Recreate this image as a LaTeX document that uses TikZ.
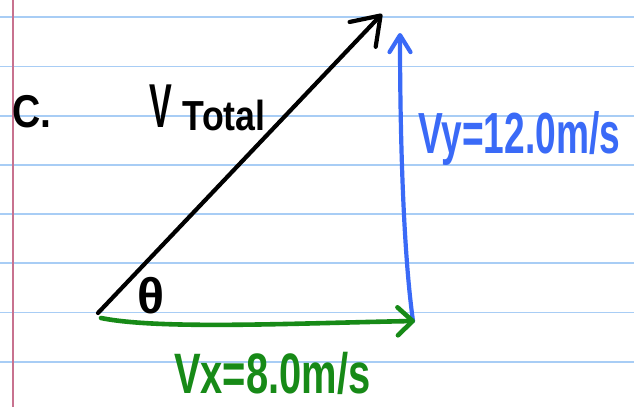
\documentclass[tikz,border=0pt]{standalone}
\usepackage{fontspec}
\newfontfamily\hand{Liberation Sans}
\usetikzlibrary{arrows.meta}
\definecolor{paperline}{HTML}{A8CDF5}
\definecolor{marginline}{HTML}{C8728F}
\definecolor{inkblue}{HTML}{3A6AF7}
\definecolor{inkgreen}{HTML}{178A17}
\tikzset{
  rule/.style={draw=paperline, line width=1.8pt},
  margin/.style={draw=marginline, line width=1.8pt},
  ink/.style={line width=4.2pt, line cap=round, line join=round},
  blacktip/.style={-{Straight Barb[length=26pt,width=36pt,line cap=round,line join=round]}},
  bluetip/.style={-{Straight Barb[length=17pt,width=21pt,line cap=round,line join=round]}},
  greentip/.style={-{Straight Barb[length=15pt,width=28pt,line cap=round,line join=round]}},
  txt/.style={inner sep=0pt, anchor=base west, font=\hand\bfseries},
}
\begin{document}
\begin{tikzpicture}[x=1pt,y=-1pt]
\useasboundingbox (0,0) rectangle (634,407);
\fill[white] (0,0) rectangle (634,407);
% ruled paper
\foreach \k in {0,...,7} {
  \draw[rule] (0,{17.3+49.2*\k}) -- (634,{17.3+49.2*\k});
}
\draw[margin] (12.7,0) -- (12.7,407);
% vector end points
\coordinate (o) at (98,313);
\coordinate (t) at (382,14);
\coordinate (b0) at (413,321);
\coordinate (b1) at (400,33);
\coordinate (g0) at (101,318);
\coordinate (g1) at (415,321);
% vectors
\draw[ink, blacktip, black] (o) -- (t);
\draw[ink, bluetip, inkblue] (b0) .. controls (403,250) and (400,130) .. (b1);
\draw[ink, greentip, inkgreen, line width=4.6pt] (g0) .. controls (160,330) and (300,323) .. (g1);
% labels
\node[txt] (c) at (12,127) {\scalebox{0.85}[1]{\fontsize{46}{46}\selectfont C.}};
\node[txt] (vt) at (149,127) {\scalebox{0.55}[1]{\fontsize{62}{62}\selectfont V}\hspace{11pt}\raisebox{-3pt}{\scalebox{0.85}[1]{\fontsize{42}{42}\selectfont Total}}};
\node[inner sep=0pt, font=\hand\bfseries\fontsize{50}{50}\selectfont] (th) at (151,296) {θ};
\node[txt, text=inkblue] (vy) at (418,153) {\scalebox{0.64}[1]{\fontsize{58}{58}\selectfont Vy=12.0m/s}};
\node[txt, text=inkgreen] (vx) at (174,393) {\scalebox{0.70}[1]{\fontsize{57}{57}\selectfont Vx=8.0m/s}};
\end{tikzpicture}
\end{document}
